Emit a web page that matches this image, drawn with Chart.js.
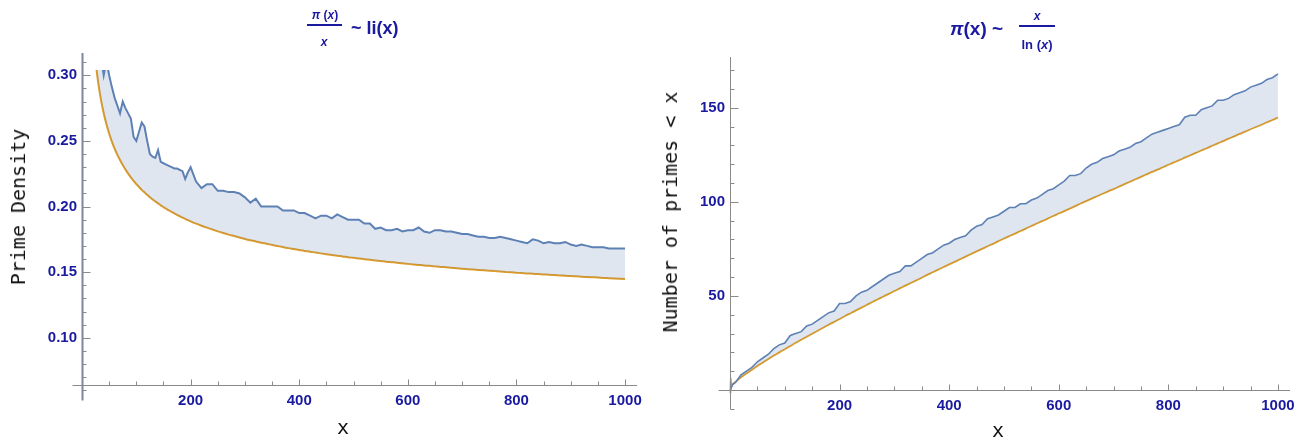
<!DOCTYPE html>
<html>
<head>
<meta charset="utf-8">
<script src="https://cdn.jsdelivr.net/npm/chart.js@4.4.1/dist/chart.umd.min.js"></script>
<style>
  body { margin: 0; background: #fff; width: 1309px; height: 441px; position: relative; overflow: hidden; font-family: "Liberation Sans", Arial, sans-serif; }
  canvas { position: absolute; top: 0; }
  #densityChart { left: 0; }
  #countChart { left: 655px; }
  .t { position: absolute; color: #1a1aa0; font-weight: bold; white-space: nowrap; line-height: 1; }
  .bar { position: absolute; height: 2px; background: #1a1aa0; }
  .ax { position: absolute; font-family: "DejaVu Sans Mono", monospace; font-size: 20px; color: #111; white-space: nowrap; line-height: 1; }
  .c { transform: translate(-50%, -50%); }
  .rot { transform: translate(-50%, -50%) rotate(-90deg); }
</style>
</head>
<body>
<canvas id="densityChart" width="655" height="441"></canvas>
<canvas id="countChart" width="654" height="441"></canvas>

<!-- left title: pi(x)/x ~ li(x) -->
<div class="t c" style="left:325px;top:15px;font-size:12px;"><i>π</i> (<i>x</i>)</div>
<div class="bar" style="left:307px;top:24px;width:35px;"></div>
<div class="t c" style="left:324px;top:42px;font-size:12px;"><i>x</i></div>
<div class="t" style="left:351px;top:19px;font-size:18px;">~ li(x)</div>

<!-- right title: pi(x) ~ x/ln(x) -->
<div class="t" style="left:950px;top:19px;font-size:19px;"><i>π</i>(x) ~</div>
<div class="t c" style="left:1037px;top:16px;font-size:12px;"><i>x</i></div>
<div class="bar" style="left:1019px;top:25px;width:36px;"></div>
<div class="t c" style="left:1037px;top:44px;font-size:13px;">ln (<i>x</i>)</div>

<!-- axis titles -->
<div class="ax rot" style="left:18px;top:207px;">Prime Density</div>
<div class="ax c" style="left:343px;top:427px;">x</div>
<div class="ax rot" style="left:670px;top:212px;">Number of primes &lt; x</div>
<div class="ax c" style="left:998px;top:430px;">x</div>

<script>
// ---- left panel: prime density pi(x)/x and 1/ln(x) ----
const densX = [
  20, 25, 30, 35, 40, 45, 50, 55, 60, 65, 70, 75, 80, 85, 90, 95, 100, 105, 110, 115,
  120, 125, 130, 135, 140, 145, 150, 155, 160, 165, 170, 175, 180, 185, 190, 195, 200,
  210, 220, 230, 240, 250, 260, 270, 280, 290, 300, 310, 320, 330, 340, 350, 360, 370, 380, 390, 400,
  410, 420, 430, 440, 450, 460, 470, 480, 490, 500, 510, 520, 530, 540, 550, 560, 570, 580, 590, 600,
  610, 620, 630, 640, 650, 660, 670, 680, 690, 700, 710, 720, 730, 740, 750, 760, 770, 780, 790, 800,
  810, 820, 830, 840, 850, 860, 870, 880, 890, 900, 910, 920, 930, 940, 950, 960, 970, 980, 990, 1000
];
const densPrime = [
  0.400, 0.360, 0.333, 0.314, 0.300, 0.311, 0.300, 0.291, 0.283, 0.277,
  0.271, 0.280, 0.275, 0.271, 0.267, 0.253, 0.250, 0.257, 0.264, 0.261,
  0.250, 0.240, 0.238, 0.237, 0.243, 0.234, 0.233, 0.232, 0.231, 0.230,
  0.229, 0.229, 0.228, 0.227, 0.221, 0.226, 0.230,
  0.219, 0.214, 0.217, 0.217, 0.212, 0.212, 0.211, 0.211, 0.210, 0.207,
  0.203, 0.206, 0.200, 0.200, 0.200, 0.200, 0.197, 0.197, 0.197, 0.195,
  0.195, 0.193, 0.191, 0.193, 0.193, 0.191, 0.194, 0.192, 0.190, 0.190,
  0.190, 0.187, 0.187, 0.183, 0.184, 0.182, 0.182, 0.183, 0.181, 0.182,
  0.182, 0.184, 0.181, 0.180, 0.182, 0.182, 0.181, 0.181, 0.180, 0.179,
  0.179, 0.178, 0.177, 0.177, 0.176, 0.176, 0.177, 0.176, 0.175, 0.174,
  0.173, 0.172, 0.175, 0.174, 0.172, 0.173, 0.172, 0.172, 0.173, 0.171,
  0.170, 0.171, 0.170, 0.169, 0.169, 0.169, 0.168, 0.168, 0.168, 0.168
];
const densLog = [
  0.3338, 0.3107, 0.2940, 0.2813, 0.2711, 0.2627, 0.2556, 0.2495, 0.2442, 0.2396,
  0.2354, 0.2316, 0.2282, 0.2251, 0.2222, 0.2196, 0.2171, 0.2149, 0.2127, 0.2108,
  0.2089, 0.2071, 0.2054, 0.2039, 0.2024, 0.2009, 0.1996, 0.1983, 0.1970, 0.1959,
  0.1947, 0.1936, 0.1926, 0.1916, 0.1906, 0.1896, 0.1887,
  0.1870, 0.1854, 0.1839, 0.1825, 0.1811, 0.1798, 0.1786, 0.1775, 0.1764, 0.1753,
  0.1743, 0.1734, 0.1724, 0.1716, 0.1707, 0.1699, 0.1691, 0.1683, 0.1676, 0.1669,
  0.1662, 0.1656, 0.1649, 0.1643, 0.1637, 0.1631, 0.1625, 0.1620, 0.1614, 0.1609,
  0.1604, 0.1599, 0.1594, 0.1589, 0.1585, 0.1580, 0.1576, 0.1572, 0.1567, 0.1563,
  0.1559, 0.1555, 0.1551, 0.1548, 0.1544, 0.1540, 0.1537, 0.1533, 0.1530, 0.1526,
  0.1523, 0.1520, 0.1517, 0.1514, 0.1511, 0.1508, 0.1505, 0.1502, 0.1499, 0.1496,
  0.1493, 0.1490, 0.1488, 0.1485, 0.1483, 0.1480, 0.1478, 0.1475, 0.1473, 0.1470,
  0.1468, 0.1465, 0.1463, 0.1461, 0.1459, 0.1456, 0.1454, 0.1452, 0.1450, 0.1448
];
const densTicks = [0.10, 0.15, 0.20, 0.25, 0.30];

// ---- right panel: prime count pi(x) and x/ln(x) ----
const countX = [
  0.8, 1.3, 2, 5,
  10, 20, 30, 40, 50, 60, 70, 80, 90, 100, 110, 120, 130, 140, 150, 160, 170, 180, 190, 200,
  210, 220, 230, 240, 250, 260, 270, 280, 290, 300, 310, 320, 330, 340, 350, 360, 370, 380, 390, 400,
  410, 420, 430, 440, 450, 460, 470, 480, 490, 500, 510, 520, 530, 540, 550, 560, 570, 580, 590, 600,
  610, 620, 630, 640, 650, 660, 670, 680, 690, 700, 710, 720, 730, 740, 750, 760, 770, 780, 790, 800,
  810, 820, 830, 840, 850, 860, 870, 880, 890, 900, 910, 920, 930, 940, 950, 960, 970, 980, 990, 1000
];
const countPrime = [
  0, 0, 1, 3,
  4, 8, 10, 12, 15, 17, 19, 22, 24, 25, 29, 30, 31, 34, 35, 37, 39, 41, 42, 46,
  46, 47, 50, 52, 53, 55, 57, 59, 61, 62, 63, 66, 66, 68, 70, 72, 73, 75, 77, 78,
  80, 81, 82, 85, 87, 88, 91, 92, 93, 95, 97, 97, 99, 99, 101, 102, 104, 106, 107, 109,
  111, 114, 114, 115, 118, 120, 121, 123, 124, 125, 127, 128, 129, 131, 132, 134, 136, 137, 138, 139,
  140, 141, 145, 146, 146, 149, 150, 151, 154, 154, 155, 157, 158, 159, 161, 162, 163, 165, 166, 168
];
const countLog = [
  -1.6, 6.4, 2.9, 3.1,
  4.3, 6.7, 8.8, 10.8, 12.8, 14.6, 16.5, 18.3, 20.0, 21.7,
  23.4, 25.1, 26.7, 28.3, 29.9, 31.5, 33.1, 34.7, 36.2, 37.7,
  39.3, 40.8, 42.3, 43.8, 45.3, 46.8, 48.2, 49.7, 51.1, 52.6,
  54.0, 55.5, 56.9, 58.3, 59.7, 61.2, 62.6, 64.0, 65.4, 66.8,
  68.1, 69.5, 70.9, 72.3, 73.7, 75.0, 76.4, 77.7, 79.1, 80.5,
  81.8, 83.1, 84.5, 85.8, 87.2, 88.5, 89.8, 91.1, 92.5, 93.8,
  95.1, 96.4, 97.7, 99.1, 100.4, 101.7, 103.0, 104.3, 105.6, 106.8,
  108.1, 109.4, 110.7, 112.0, 113.3, 114.6, 115.9, 117.1, 118.4, 119.7,
  121.0, 122.2, 123.5, 124.8, 126.0, 127.3, 128.5, 129.8, 131.1, 132.3,
  133.6, 134.8, 136.1, 137.3, 138.6, 139.8, 141.0, 142.3, 143.5, 144.8
];
const countTicks = [50, 100, 150];

const xTicks = [200, 400, 600, 800, 1000];

const BLUE = 'rgb(94,129,181)';
const ORANGE = 'rgb(225,156,36)';
const FILL = 'rgba(94,129,181,0.2)';
const LABEL = '#1a1aa0';

const toPoints = (xs, ys) => xs.map((x, i) => ({ x, y: ys[i] }));

// Mathematica style axes: crossing lines with ticks pointing inward
const mmaAxes = {
  id: 'mmaAxes',
  afterDatasetsDraw(chart, args, o) {
    const { ctx } = chart;
    const xs = chart.scales.x, ys = chart.scales.y;
    const ox = Math.round(xs.getPixelForValue(0)) + 0.5;
    const oy = Math.round(ys.getPixelForValue(o.originY)) + 0.5;
    ctx.save();
    ctx.strokeStyle = '#8a8a8a';
    ctx.lineWidth = 1;
    ctx.beginPath();
    ctx.moveTo(ox - o.xStub, oy);
    ctx.lineTo(xs.right, oy);
    for (let i = 1; i * 50 <= 1000; i++) {
      const px = Math.round(xs.getPixelForValue(i * 50)) + 0.5;
      ctx.moveTo(px, oy);
      ctx.lineTo(px, oy - (i % 4 === 0 ? 6 : 4));
    }
    for (let i = o.yFrom; i <= o.yTo; i++) {
      const py = Math.round(ys.getPixelForValue(i * o.yStep)) + 0.5;
      ctx.moveTo(ox, py);
      ctx.lineTo(ox + (i % 5 === 0 ? 8 : 4), py);
    }
    ctx.stroke();
    ctx.strokeStyle = o.yColor;
    ctx.lineWidth = o.yWidth;
    ctx.beginPath();
    ctx.moveTo(ox, ys.top);
    ctx.lineTo(ox, oy + o.yStub);
    ctx.stroke();
    ctx.restore();
  }
};

const tickFont = { family: '"Liberation Sans", Arial, sans-serif', size: 15, weight: 'bold' };

function makeChart(id, datasets, yMin, yMax, yTicks, fmt, yWidth, pad, axes) {
  return new Chart(document.getElementById(id), {
    type: 'line',
    data: { datasets },
    options: {
      responsive: false,
      animation: false,
      devicePixelRatio: 1,
      layout: { padding: pad },
      plugins: { legend: { display: false }, tooltip: { enabled: false }, mmaAxes: axes },
      elements: { point: { radius: 0 } },
      scales: {
        x: {
          type: 'linear', min: 0, max: 1022,
          grid: { display: false, drawTicks: false },
          border: { display: false },
          afterBuildTicks: s => { s.ticks = xTicks.map(v => ({ value: v })); },
          afterFit: s => { s.height = 30; },
          ticks: { color: LABEL, font: tickFont, padding: 7, maxRotation: 0, autoSkip: false, callback: v => String(v) }
        },
        y: {
          type: 'linear', min: yMin, max: yMax,
          grid: { display: false, drawTicks: false },
          border: { display: false },
          afterBuildTicks: s => { s.ticks = yTicks.map(v => ({ value: v })); },
          afterFit: s => { s.width = yWidth; },
          ticks: { color: LABEL, font: tickFont, padding: 5, callback: fmt }
        }
      }
    },
    plugins: [mmaAxes]
  });
}

makeChart('densityChart', [
  {
    data: toPoints(densX, densPrime),
    borderColor: BLUE, borderWidth: 2, backgroundColor: FILL,
    fill: '+1', tension: 0, clip: { left: 0, top: -17, right: 0, bottom: 0 }
  },
  {
    data: toPoints(densX, densLog),
    borderColor: ORANGE, borderWidth: 2, fill: false,
    cubicInterpolationMode: 'monotone', clip: { left: 0, top: -17, right: 0, bottom: 0 }
  }
], 0.064, 0.317, densTicks, v => v.toFixed(2), 82,
  { left: 0, right: 18, top: 53, bottom: 26 },
  { originY: 0.064, xStub: 10, yStub: 15, yFrom: 6, yTo: 31, yStep: 0.01, yColor: '#7b879f', yWidth: 2 });

makeChart('countChart', [
  {
    data: toPoints(countX, countPrime),
    borderColor: BLUE, borderWidth: 1.6, backgroundColor: FILL,
    fill: '+1', tension: 0, clip: { left: 4, top: 0, right: 0, bottom: 5 }
  },
  {
    data: toPoints(countX, countLog),
    borderColor: ORANGE, borderWidth: 1.8, fill: false,
    cubicInterpolationMode: 'monotone', clip: { left: 4, top: 0, right: 0, bottom: 5 }
  }
], 0, 177, countTicks, v => String(v), 75,
  { left: 0, right: 19, top: 57, bottom: 21 },
  { originY: 0, xStub: 12, yStub: 19, yFrom: -1, yTo: 17, yStep: 10, yColor: '#8a8a8a', yWidth: 1 });
</script>
</body>
</html>
